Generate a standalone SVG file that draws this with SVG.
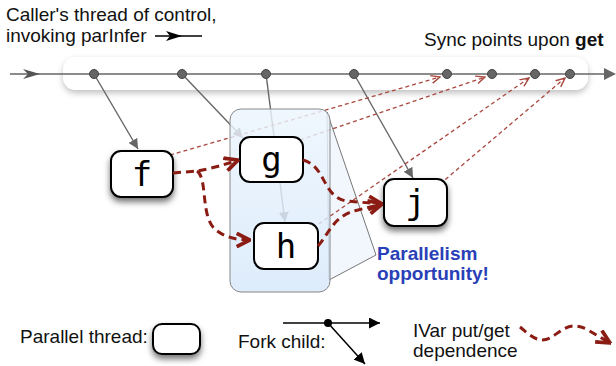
<svg xmlns="http://www.w3.org/2000/svg" width="616" height="366" viewBox="0 0 616 366">
<defs>
  <filter id="sh" x="-30%" y="-30%" width="160%" height="180%">
    <feDropShadow dx="0" dy="4" stdDeviation="3" flood-color="#000" flood-opacity="0.55"/>
  </filter>
  <filter id="shbar" x="-5%" y="-40%" width="110%" height="200%">
    <feDropShadow dx="0" dy="3" stdDeviation="3" flood-color="#000" flood-opacity="0.25"/>
  </filter>
  <linearGradient id="blue" x1="0" y1="0" x2="0" y2="1">
    <stop offset="0" stop-color="#ecf5fe"/>
    <stop offset="1" stop-color="#d6e8fa"/>
  </linearGradient>
  <marker id="ag" viewBox="0 0 10 10" refX="10" refY="5" markerWidth="10" markerHeight="10" markerUnits="userSpaceOnUse" orient="auto">
    <path d="M0,0 L10,5 L0,10 Z" fill="#666"/>
  </marker>
  <marker id="ab" viewBox="0 0 10 10" refX="10" refY="5" markerWidth="11" markerHeight="11" markerUnits="userSpaceOnUse" orient="auto">
    <path d="M0,0 L10,5 L0,10 Z" fill="#000"/>
  </marker>
  <marker id="av" viewBox="0 0 10 10" refX="9" refY="5" markerWidth="10" markerHeight="10" markerUnits="userSpaceOnUse" orient="auto">
    <path d="M0,1 L9,5 L0,9" fill="none" stroke="#a8483e" stroke-width="1.4"/>
  </marker>
  <marker id="ar" viewBox="0 0 12 12" refX="11" refY="6" markerWidth="16" markerHeight="16" markerUnits="userSpaceOnUse" orient="auto">
    <path d="M1,1 L11,6 L1,11" fill="none" stroke="#8b1c14" stroke-width="2.8" stroke-linejoin="miter"/>
  </marker>
  <style>
    text { font-family: "Liberation Sans", Arial, sans-serif; font-size: 19px; fill: #111; }
    .lbl { font-family: "DejaVu Sans Mono", "Liberation Mono", monospace; font-size: 34px; text-anchor: middle; fill: #000; }
    .node { fill: #fff; stroke: #000; stroke-width: 2; }
    .fork { fill: none; stroke: #666; stroke-width: 1.4; }
    .sync { fill: none; stroke: #a8483e; stroke-width: 1.3; stroke-dasharray: 4 3; }
    .dep { fill: none; stroke: #8b1c14; stroke-width: 3; stroke-dasharray: 8 5; }
    .dot { fill: #666; stroke: #444; stroke-width: 1; }
    .par { font-weight: bold; fill: #2940b8; }
  </style>
</defs>

<!-- texts -->
<text x="6" y="21">Caller's thread of control,</text>
<text x="6" y="42">invoking parInfer</text>
<g id="title-arrow">
  <line x1="155" y1="36" x2="202" y2="36" stroke="#000" stroke-width="1.5"/>
  <path d="M166,31 L182,36 L166,41 L170,36 Z" fill="#000"/>
</g>
<text x="424" y="46">Sync points upon <tspan font-weight="bold">get</tspan></text>

<!-- timeline bar -->
<g id="timeline">
  <rect x="63" y="57" width="525" height="33" rx="13" fill="#fff" filter="url(#shbar)"/>
  <line x1="10" y1="74" x2="606" y2="74" stroke="#666" stroke-width="1.5"/>
  <path d="M23,69 L40,74 L23,79 L28,74 Z" fill="#555"/>
  <path d="M604,68 L616,74 L604,80 Z" fill="#666"/>
</g>

<!-- wedge -->
<polygon points="327,112 376,255 329,280" fill="#f1f7fd" stroke="#777" stroke-width="1"/>

<!-- connectors under the blue box -->
<g id="connectors">
  <line class="fork" x1="94" y1="74" x2="138" y2="149" marker-end="url(#ag)"/>
  <line class="fork" x1="182" y1="74" x2="243" y2="138" marker-end="url(#ag)"/>
  <line class="fork" x1="266" y1="74" x2="285" y2="222" marker-end="url(#ag)"/>
  <line class="fork" x1="354" y1="74" x2="413" y2="178" marker-end="url(#ag)"/>
  <line class="sync" x1="170" y1="155" x2="440" y2="77" marker-end="url(#av)"/>
  <line class="sync" x1="300" y1="140" x2="485" y2="77" marker-end="url(#av)"/>
  <line class="sync" x1="313" y1="228" x2="529" y2="78" marker-end="url(#av)"/>
  <line class="sync" x1="440" y1="184" x2="565" y2="78" marker-end="url(#av)"/>
</g>

<!-- parallelism box -->
<rect id="parbox" x="230" y="109" width="100" height="183" rx="11" fill="url(#blue)" fill-opacity="0.82" stroke="#888" stroke-width="1"/>

<!-- dots -->
<g id="syncdots">
  <circle class="dot" cx="94" cy="74" r="4.5"/>
  <circle class="dot" cx="182" cy="74" r="4.5"/>
  <circle class="dot" cx="266" cy="74" r="4.5"/>
  <circle class="dot" cx="354" cy="74" r="4.5"/>
  <circle class="dot" cx="447" cy="74" r="4.5"/>
  <circle class="dot" cx="492" cy="74" r="4.5"/>
  <circle class="dot" cx="535" cy="74" r="4.5"/>
  <circle class="dot" cx="570" cy="74" r="4.5"/>
</g>

<!-- nodes -->
<g id="node-f"><rect class="node" x="111" y="151" width="62" height="46" rx="10" filter="url(#sh)"/><text class="lbl" x="142" y="186">f</text></g>
<g id="node-g"><rect class="node" x="240" y="137" width="63" height="45" rx="10"/><text class="lbl" x="271.5" y="171">g</text></g>
<g id="node-h"><rect class="node" x="254" y="223" width="64" height="46" rx="10"/><text class="lbl" x="286" y="258">h</text></g>
<g id="node-j"><rect class="node" x="384" y="179" width="63" height="47" rx="10" filter="url(#sh)"/><text class="lbl" x="415.5" y="214">j</text></g>

<!-- dependence arrows -->
<g id="dependences">
  <path class="dep" d="M173,173 L197,171 Q215,168 238,160" marker-end="url(#ar)"/>
  <path class="dep" d="M197,171 C208,178 200,218 216,230 C226,238 238,240 250,240" marker-end="url(#ar)"/>
  <path class="dep" d="M303,160 C326,166 322,196 346,201 L382,204" marker-end="url(#ar)"/>
  <path class="dep" d="M318,246 C330,232 334,215 358,210 L382,204" marker-end="url(#ar)"/>
</g>

<text class="par" x="377" y="260">Parallelism</text>
<text class="par" x="377" y="280">opportunity!</text>

<!-- legend -->
<g id="legend">
  <text x="20" y="343">Parallel thread:</text>
  <rect class="node" x="153" y="324" width="47" height="30" rx="9" filter="url(#sh)"/>
  <text x="238" y="348">Fork child:</text>
  <line x1="283" y1="323" x2="380" y2="323" stroke="#000" stroke-width="1.5" marker-end="url(#ab)"/>
  <line x1="328" y1="323" x2="365" y2="364" stroke="#000" stroke-width="1.5" marker-end="url(#ab)"/>
  <circle cx="328" cy="323" r="4" fill="#000"/>
  <text x="413" y="337">IVar put/get</text>
  <text x="413" y="357">dependence</text>
  <path class="dep" d="M520,327 C530,335 538,344 550,338 C562,331 570,320 588,330 L610,343" marker-end="url(#ar)"/>
</g>
</svg>
